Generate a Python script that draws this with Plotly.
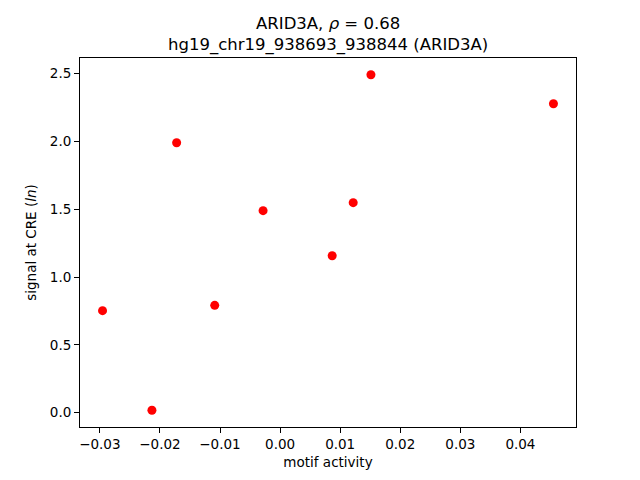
import plotly.graph_objects as go

motif_activity = [-0.02955, -0.02133, -0.01722, -0.01088, -0.00283, 0.00867, 0.01217, 0.01512, 0.0455]
signal = [0.752, 0.018, 1.990, 0.791, 1.489, 1.157, 1.548, 2.491, 2.277]

x_ticks = [-0.03, -0.02, -0.01, 0.0, 0.01, 0.02, 0.03, 0.04]
x_tick_labels = ["−0.03", "−0.02", "−0.01", "0.00", "0.01", "0.02", "0.03", "0.04"]
y_ticks = [0.0, 0.5, 1.0, 1.5, 2.0, 2.5]
y_tick_labels = ["0.0", "0.5", "1.0", "1.5", "2.0", "2.5"]

title_line1 = "ARID3A, <i>ρ</i> = 0.68"
title_line2 = "hg19_chr19_938693_938844 (ARID3A)"

def padded(vals, frac=0.05):
    lo, hi = min(vals), max(vals)
    r = hi - lo
    return [lo - frac * r, hi + frac * r]

font = "DejaVu Sans"
fig = go.Figure(go.Scatter(
    x=motif_activity, y=signal, mode="markers",
    marker=dict(color="red", size=9, line=dict(width=0)),
))

axis_common = dict(
    showline=True, linecolor="black", linewidth=1, mirror=True,
    ticks="outside", ticklen=5, tickwidth=1, tickcolor="black",
    showgrid=False, zeroline=False,
    tickfont=dict(family=font, size=13.5, color="black"),
)

fig.update_layout(
    width=640, height=480,
    margin=dict(l=72, r=72, t=50, b=61),
    paper_bgcolor="white", plot_bgcolor="white",
    showlegend=False,
    font=dict(family=font, color="black"),
    xaxis=dict(range=padded(motif_activity), tickvals=x_ticks, ticktext=x_tick_labels,
               title=dict(text="motif activity", font=dict(family=font, size=13.5), standoff=6),
               **axis_common),
    yaxis=dict(range=padded(signal), tickvals=y_ticks, ticktext=y_tick_labels,
               title=dict(text="signal at CRE (<i>ln</i>)", font=dict(family=font, size=13.5), standoff=10),
               **axis_common),
    annotations=[dict(
        text=title_line1 + "<br>" + title_line2,
        xref="paper", yref="paper", x=0.5, y=1, yanchor="bottom", xanchor="center",
        yshift=1, showarrow=False, font=dict(family=font, size=16.5, color="black"),
    )],
)

fig.write_html("out.html")
